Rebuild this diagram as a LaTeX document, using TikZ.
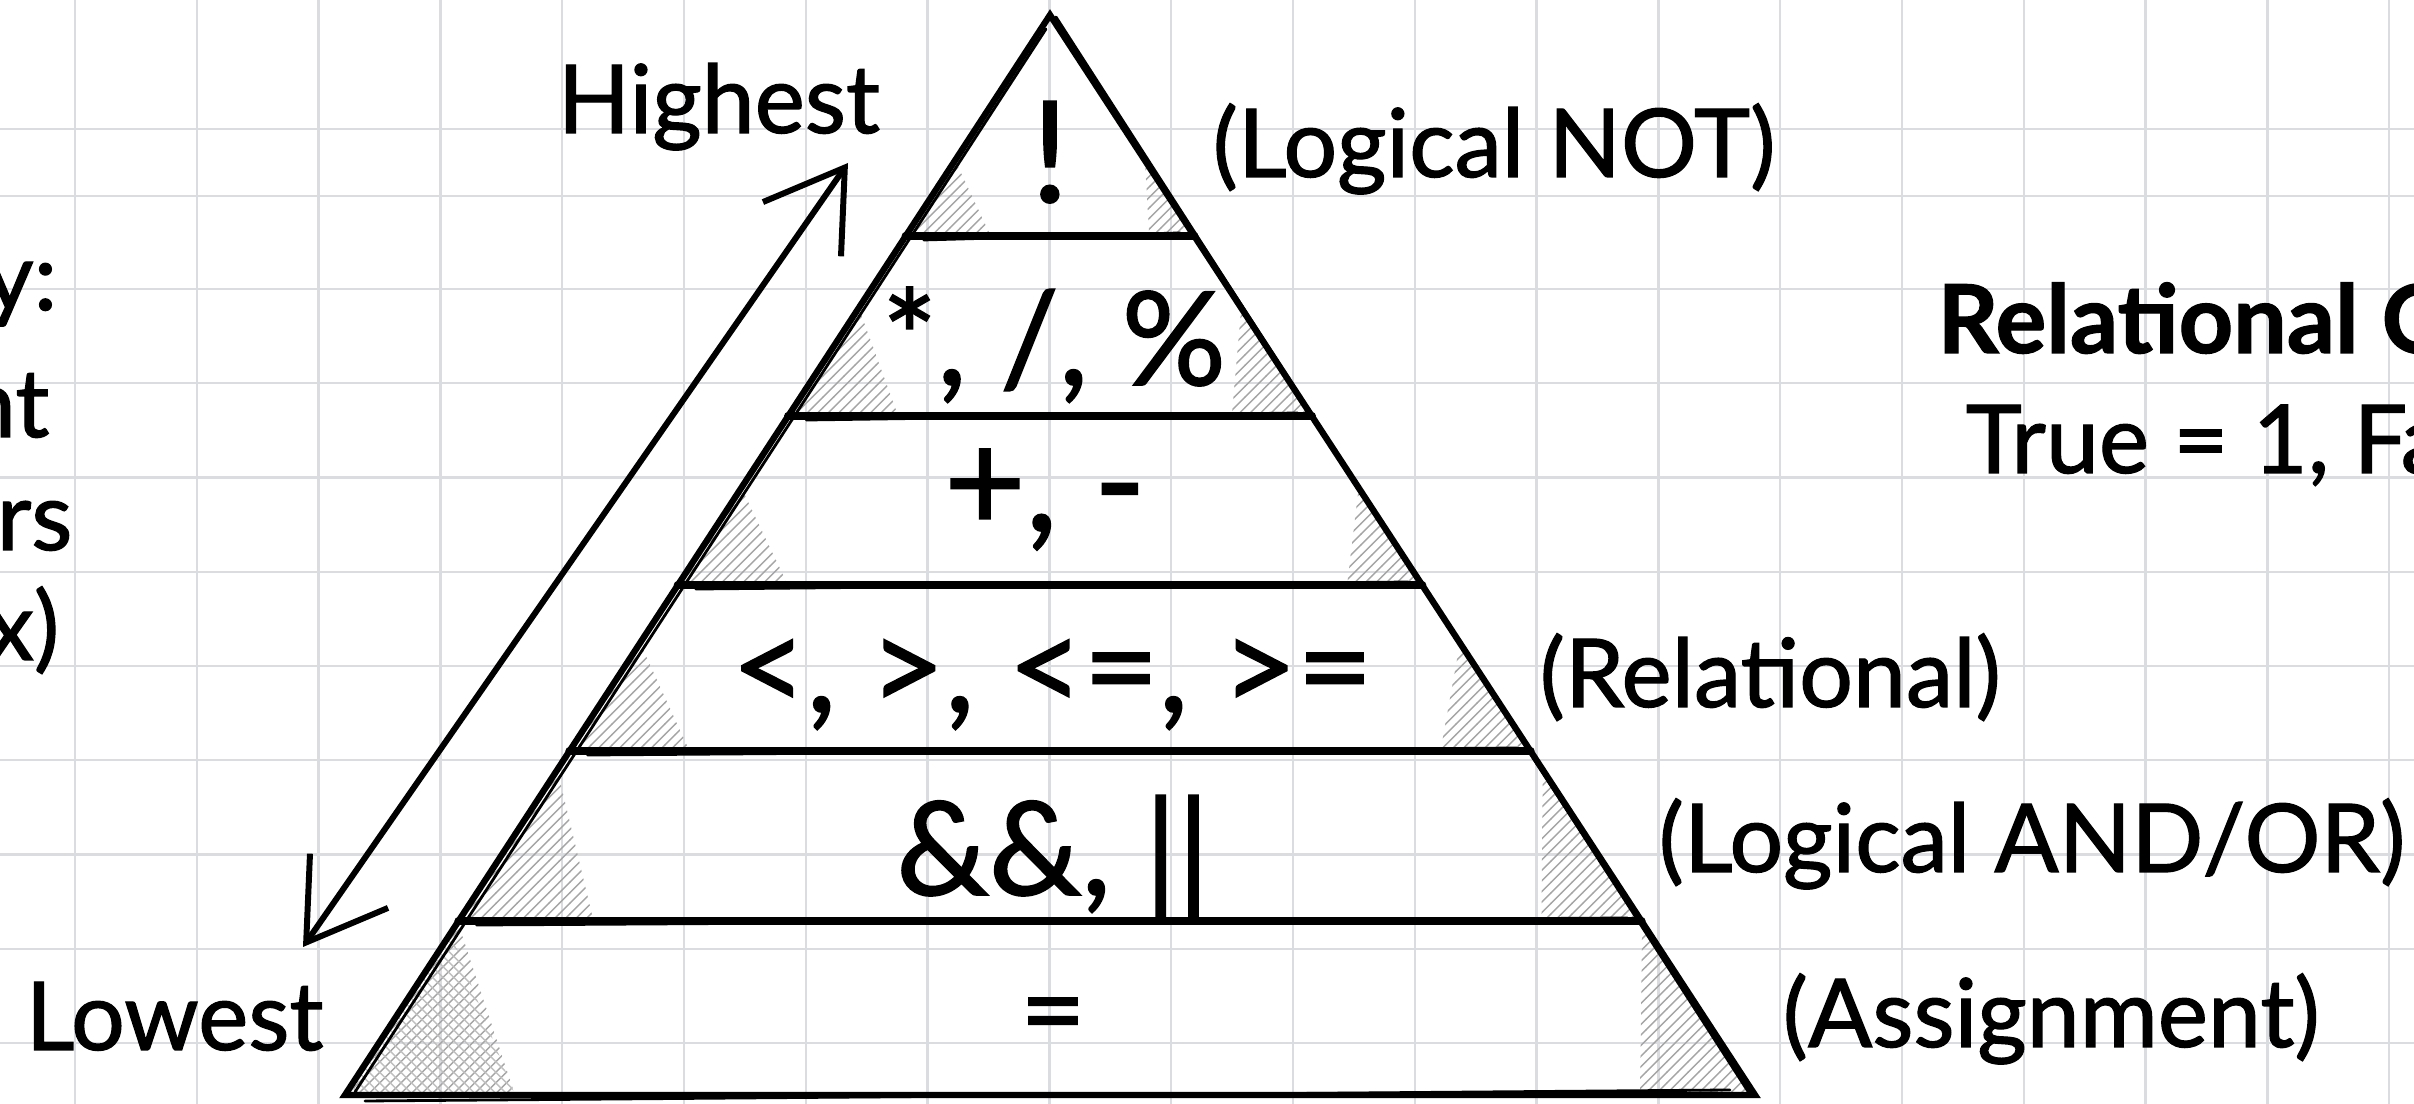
\documentclass[tikz,border=0pt]{standalone}
\usepackage{fontspec}
\setmainfont{Lato}[FakeBold=1.3]
\usetikzlibrary{arrows.meta, calc, patterns}

\definecolor{gridcolor}{RGB}{218,220,224}
\definecolor{hatchcolor}{RGB}{165,165,165}

\begin{document}
\begin{tikzpicture}[
    x=0.01cm, y=-0.01cm,
    gridline/.style={gridcolor, line width=0.7pt},
    edge/.style={line width=1.8pt, line cap=round},
    bandline/.style={line width=2.4pt, line cap=round},
    sketch/.style={line width=0.8pt, line cap=round},
    hatch/.style={pattern=north east lines, pattern color=hatchcolor},
    crosshatch/.style={pattern=north west lines, pattern color=hatchcolor!70},
    op/.style={font=\fontsize{37}{37}\selectfont, inner sep=0pt, anchor=base},
    note/.style={font=\fontsize{27}{27}\selectfont, inner sep=0pt, anchor=base west},
    >={Straight Barb[length=7.5mm, width=9.5mm]}
]
  \useasboundingbox (0,0) rectangle (2414,1104);
  \fill[white] (0,0) rectangle (2414,1104);

  % squared paper
  \foreach \k in {0,...,19}
    \draw[gridline] ({75+121.8*\k},0) -- ({75+121.8*\k},1104);
  \foreach \y in {129,196}
    \draw[gridline] (0,\y) -- (2414,\y);
  \foreach \k in {0,...,8}
    \draw[gridline] (0,{289+94.25*\k}) -- (2414,{289+94.25*\k});

  % pyramid corners
  \coordinate (apex) at (1050,15);
  \coordinate (bl) at (345,1095);
  \coordinate (br) at (1755,1095);

  % shading at the corners of each level
  \foreach \t/\h/\wl/\wr in {0.2046/0.07/85/45, 0.3713/0.10/110/80, 0.5278/0.09/110/75,
                             0.6815/0.10/120/90, 0.8389/0.14/135/100, 1.0/0.16/170/115} {
    \fill[hatch] ($(apex)!\t!(bl)$) -- ($(apex)!{\t-\h}!(bl)$) -- ($(apex)!\t!(bl)+(\wl,0)$) -- cycle;
    \fill[hatch] ($(apex)!\t!(br)$) -- ($(apex)!{\t-\h}!(br)$) -- ($(apex)!\t!(br)+(-\wr,0)$) -- cycle;
  }
  \fill[crosshatch] (bl) -- ($(apex)!0.85!(bl)$) -- ($(bl)+(170,0)$) -- cycle;

  % outline
  \draw[edge] (bl) -- (apex) -- (br) -- cycle;
  \draw[sketch] ($(bl)+(10,-3)$) -- ($(apex)+(-4,14)$);
  \draw[sketch] ($(apex)+(6,2)$) -- ($(br)+(-6,-2)$);
  \draw[sketch] ($(bl)+(20,6)$) -- ($(br)+(-25,-5)$);

  % levels
  \foreach \t in {0.2046,0.3713,0.5278,0.6815,0.8389} {
    \draw[bandline] ($(apex)!\t!(bl)$) -- ($(apex)!\t!(br)$);
    \draw[sketch] ($(apex)!\t!(bl)+(18,4)$) -- ($(apex)!\t!(br)+(-14,-3)$);
  }

  % operators
  \node[op, font=\fontsize{40}{40}\selectfont] (lvnot) at (1050,202) {!};
  \node[op] (lvmul) at (1054,385) {*, /, \%};
  \node[op, font=\fontsize{40}{40}\selectfont] (lvadd) at (1045,531) {+, -};
  \node[op] (lvrel) at (1052,712) {<, >, <=, >=};
  \node[op] (lvand) at (1053,895) {\&\&, ||};
  \node[op, font=\fontsize{32}{32}\selectfont] (lvset) at (1053,1049) {=};

  % level names
  \node[note] (nmnot) at (1212,177) {(Logical NOT)};
  \node[note] (nmrel) at (1539,707) {(Relational)};
  \node[note] (nmand) at (1658,872) {(Logical AND/OR)};
  \node[note] (nmset) at (1782,1047) {(Assignment)};

  % direction
  \node[note] (high) at (557,133) {Highest};
  \node[note] (low) at (25,1050) {Lowest};
  \coordinate (arrlo) at (303,947);
  \coordinate (arrhi) at (848,163);
  \draw[<->, line width=1.7pt] (arrlo) -- (arrhi);

  % side notes, cut by the page
  \node[note, font=\fontsize{27}{27}\selectfont\bfseries] (relhead) at (1937,353) {Relational O};
  \node[note] (reltxt) at (1965,473) {True = 1, Fa};
  \foreach \txt/\xr/\yb [count=\i] in {y:/58/310, nt/50/437, rs/73/550, x)/60/660}
    \node[note, anchor=base east] (cut\i) at (\xr,\yb) {\txt};
\end{tikzpicture}
\end{document}
